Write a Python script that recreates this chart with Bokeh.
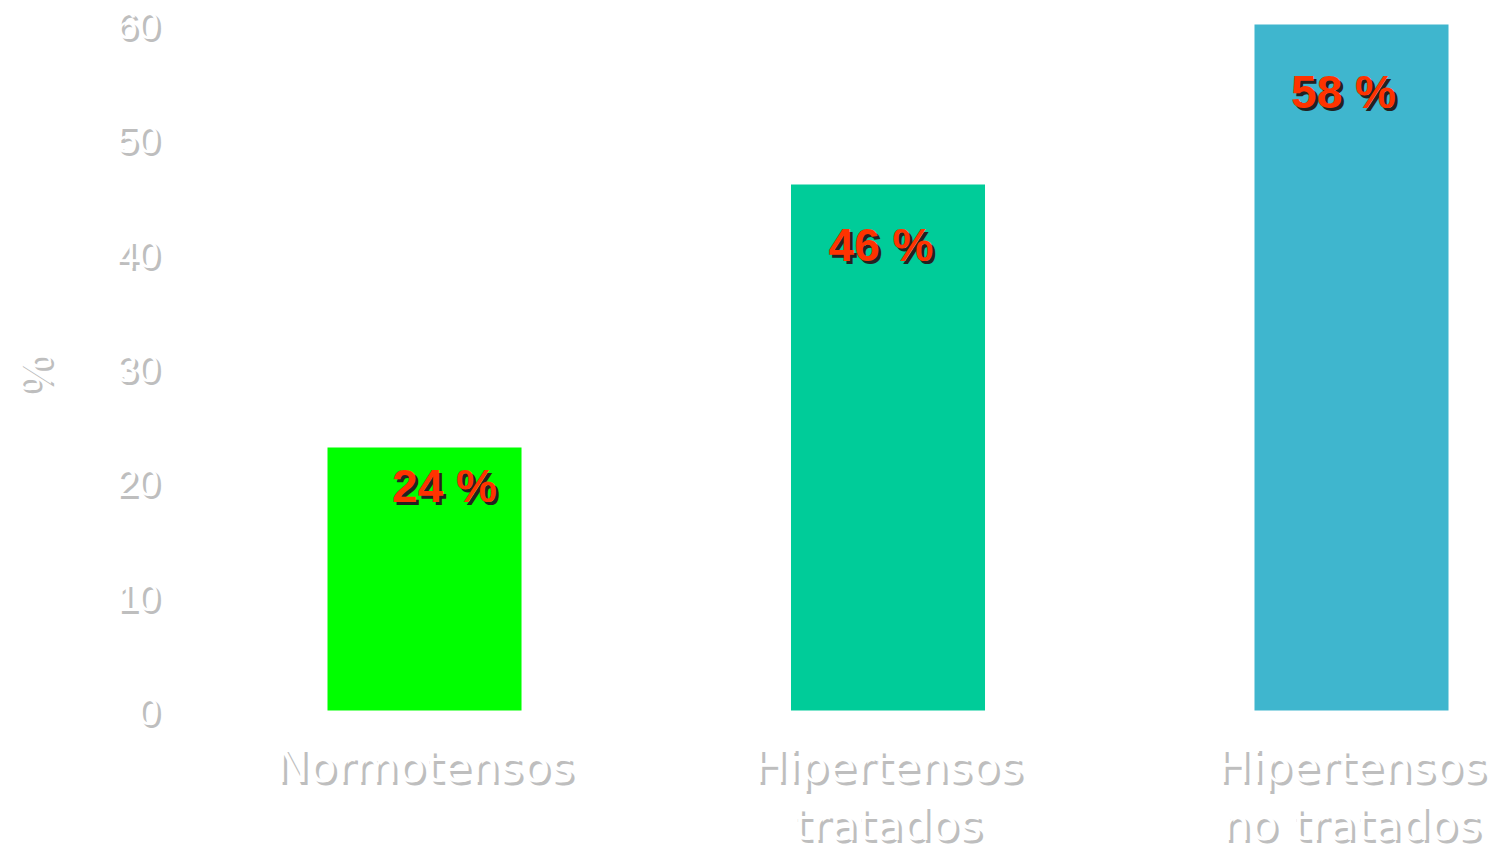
import math
from bokeh.plotting import figure
from bokeh.models import ColumnDataSource, Range1d
from bokeh.core.properties import value
from bokeh.embed import file_html
from bokeh.resources import INLINE

# ---- data ----
categories = ["Normotensos", "Hipertensos\ntratados", "Hipertensos\nno tratados"]
bar_values = [23, 46, 60]
value_labels = ["24 %", "46 %", "58 %"]
bar_colors = ["#00FF00", "#00CC99", "#3FB6CE"]
y_ticks = [0, 10, 20, 30, 40, 50, 60]
y_title = "%"

# ---- styling / geometry ----
W, H = 1497, 853
FONT = value("Liberation Sans")
FONT_CAT = value("DejaVu Sans")
xs = list(range(len(categories)))

p = figure(width=W, height=H, output_backend="svg", toolbar_location=None,
           x_range=Range1d(-0.9148, 2.3150), y_range=Range1d(-12.507, 62.099),
           x_axis_location=None, y_axis_location=None,
           min_border=0, min_border_left=0, min_border_right=0,
           min_border_top=0, min_border_bottom=0)
p.outline_line_color = None
p.grid.visible = False
p.background_fill_color = "white"
p.border_fill_color = "white"

# bars
p.vbar(x=xs, top=bar_values, bottom=0, width=0.4186, fill_color=bar_colors, line_color=None)

def shadow_text(x, y, text, size, color, shadow, align="center", baseline="middle",
                angle=0.0, xo=0, yo=0, style="normal", d=3, font=FONT):
    n = len(text)
    xo = xo if isinstance(xo, list) else [xo] * n
    yo = yo if isinstance(yo, list) else [yo] * n
    src_s = ColumnDataSource(dict(x=x, y=y, text=text,
                                  xo=[a + d for a in xo], yo=[b + d for b in yo]))
    src = ColumnDataSource(dict(x=x, y=y, text=text, xo=xo, yo=yo))
    for s, c in ((src_s, shadow), (src, color)):
        p.text(x="x", y="y", text="text", source=s, text_font=font,
               text_font_size=value(size), text_color=c, text_align=align,
               text_baseline=baseline, angle=angle, x_offset="xo", y_offset="yo",
               text_font_style=style)

# y tick labels
shadow_text([-0.5718] * len(y_ticks), y_ticks, [str(t) for t in y_ticks], "39px",
            "#FFFFFF", "#BEBEBE", align="right", baseline="middle", yo=1)

# y title
shadow_text([-0.8393], [29.6], [y_title], "44px", "#FFFFFF", "#BEBEBE",
            angle=math.pi / 2)

# category labels (multi-line)
lx, ly, lt, loff = [], [], [], []
for i, c in enumerate(categories):
    for j, line in enumerate(c.split("\n")):
        lx.append(xs[i])
        ly.append(0)
        lt.append(line)
        loff.append(56 + 58 * j)
shadow_text(lx, ly, lt, "45px", "#FFFFFF", "#BEBEBE", baseline="alphabetic",
            xo=0, yo=loff, font=FONT_CAT)

# value labels
shadow_text(xs, bar_values, value_labels, "46px", "#FF3300", "#222222",
            baseline="middle", xo=[20, -7, -8], yo=[38, 60, 68], style="bold", d=3)

open("out.html", "w").write(file_html(p, INLINE))
